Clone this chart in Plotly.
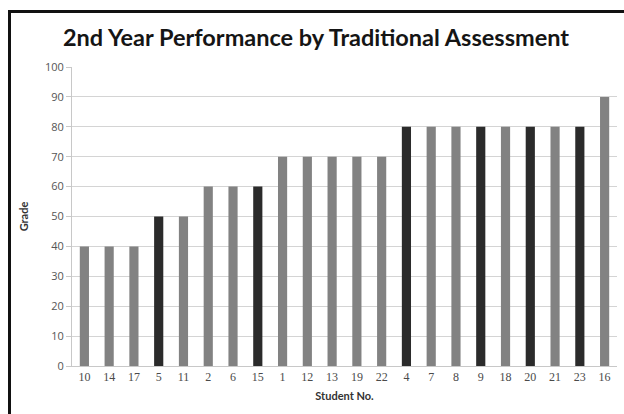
import plotly.graph_objects as go

students = ["10","14","17","5","11","2","6","15","1","12","13","19","22","4","7","8","9","18","20","21","23","16"]
grades = [40,40,40,50,50,60,60,60,70,70,70,70,70,80,80,80,80,80,80,80,80,90]
highlighted = ["5","15","4","9","20","23"]

GREY = "#828282"
DARK = "#2b2b2b"
colors = [DARK if s in highlighted else GREY for s in students]

fig = go.Figure(go.Bar(x=students, y=grades, marker=dict(color=colors, line=dict(width=0)), hoverinfo="x+y"))

W, H = 624, 414
L, R, T, B = 72, 7, 67, 48
pw, ph = W - L - R, H - T - B

def px(x):
    return (x - L) / pw

def py(y):
    return (H - B - y) / ph

fig.update_layout(
    width=W, height=H,
    margin=dict(l=L, r=R, t=T, b=B, autoexpand=False),
    paper_bgcolor="white", plot_bgcolor="white",
    bargap=0.63,
    showlegend=False,
    title=dict(text="<b>2nd Year Performance by Traditional Assessment</b>",
               x=316 / W, xanchor="center", y=1 - 38 / H, yanchor="middle",
               font=dict(family="Lato", size=23.5, color="#151515")),
    xaxis=dict(type="category", automargin=False,
               tickfont=dict(family="Liberation Serif", size=12, color="#4a4a4a"),
               showgrid=False, showline=True, linecolor="#c8c8c8", linewidth=1,
               ticks="", title=dict(text="<b>Student No.</b>", font=dict(family="Lato", size=11, color="#333333"), standoff=8)),
    yaxis=dict(range=[0, 100], dtick=10, automargin=False,
               tickfont=dict(family="Open Sans", size=11, color="#555555"),
               showgrid=True, gridcolor="#d4d4d4", gridwidth=1, zeroline=False,
               showline=True, linecolor="#c8c8c8", linewidth=1,
               ticks="outside", ticklen=5, tickcolor="#c8c8c8",
               title=dict(text="<b>Grade</b>", font=dict(family="Lato", size=11, color="#333333"), standoff=14)),
    shapes=[
        dict(type="line", xref="paper", yref="paper",
             x0=px(8), x1=px(W), y0=py(11.5), y1=py(11.5),
             line=dict(color="#111111", width=3), layer="above"),
        dict(type="line", xref="paper", yref="paper",
             x0=px(9.5), x1=px(9.5), y0=py(10), y1=py(H),
             line=dict(color="#111111", width=3), layer="above"),
    ],
)

fig.write_html("out.html", config={"displayModeBar": False},
               post_script="document.body.style.margin='0';document.body.style.overflow='hidden';")
